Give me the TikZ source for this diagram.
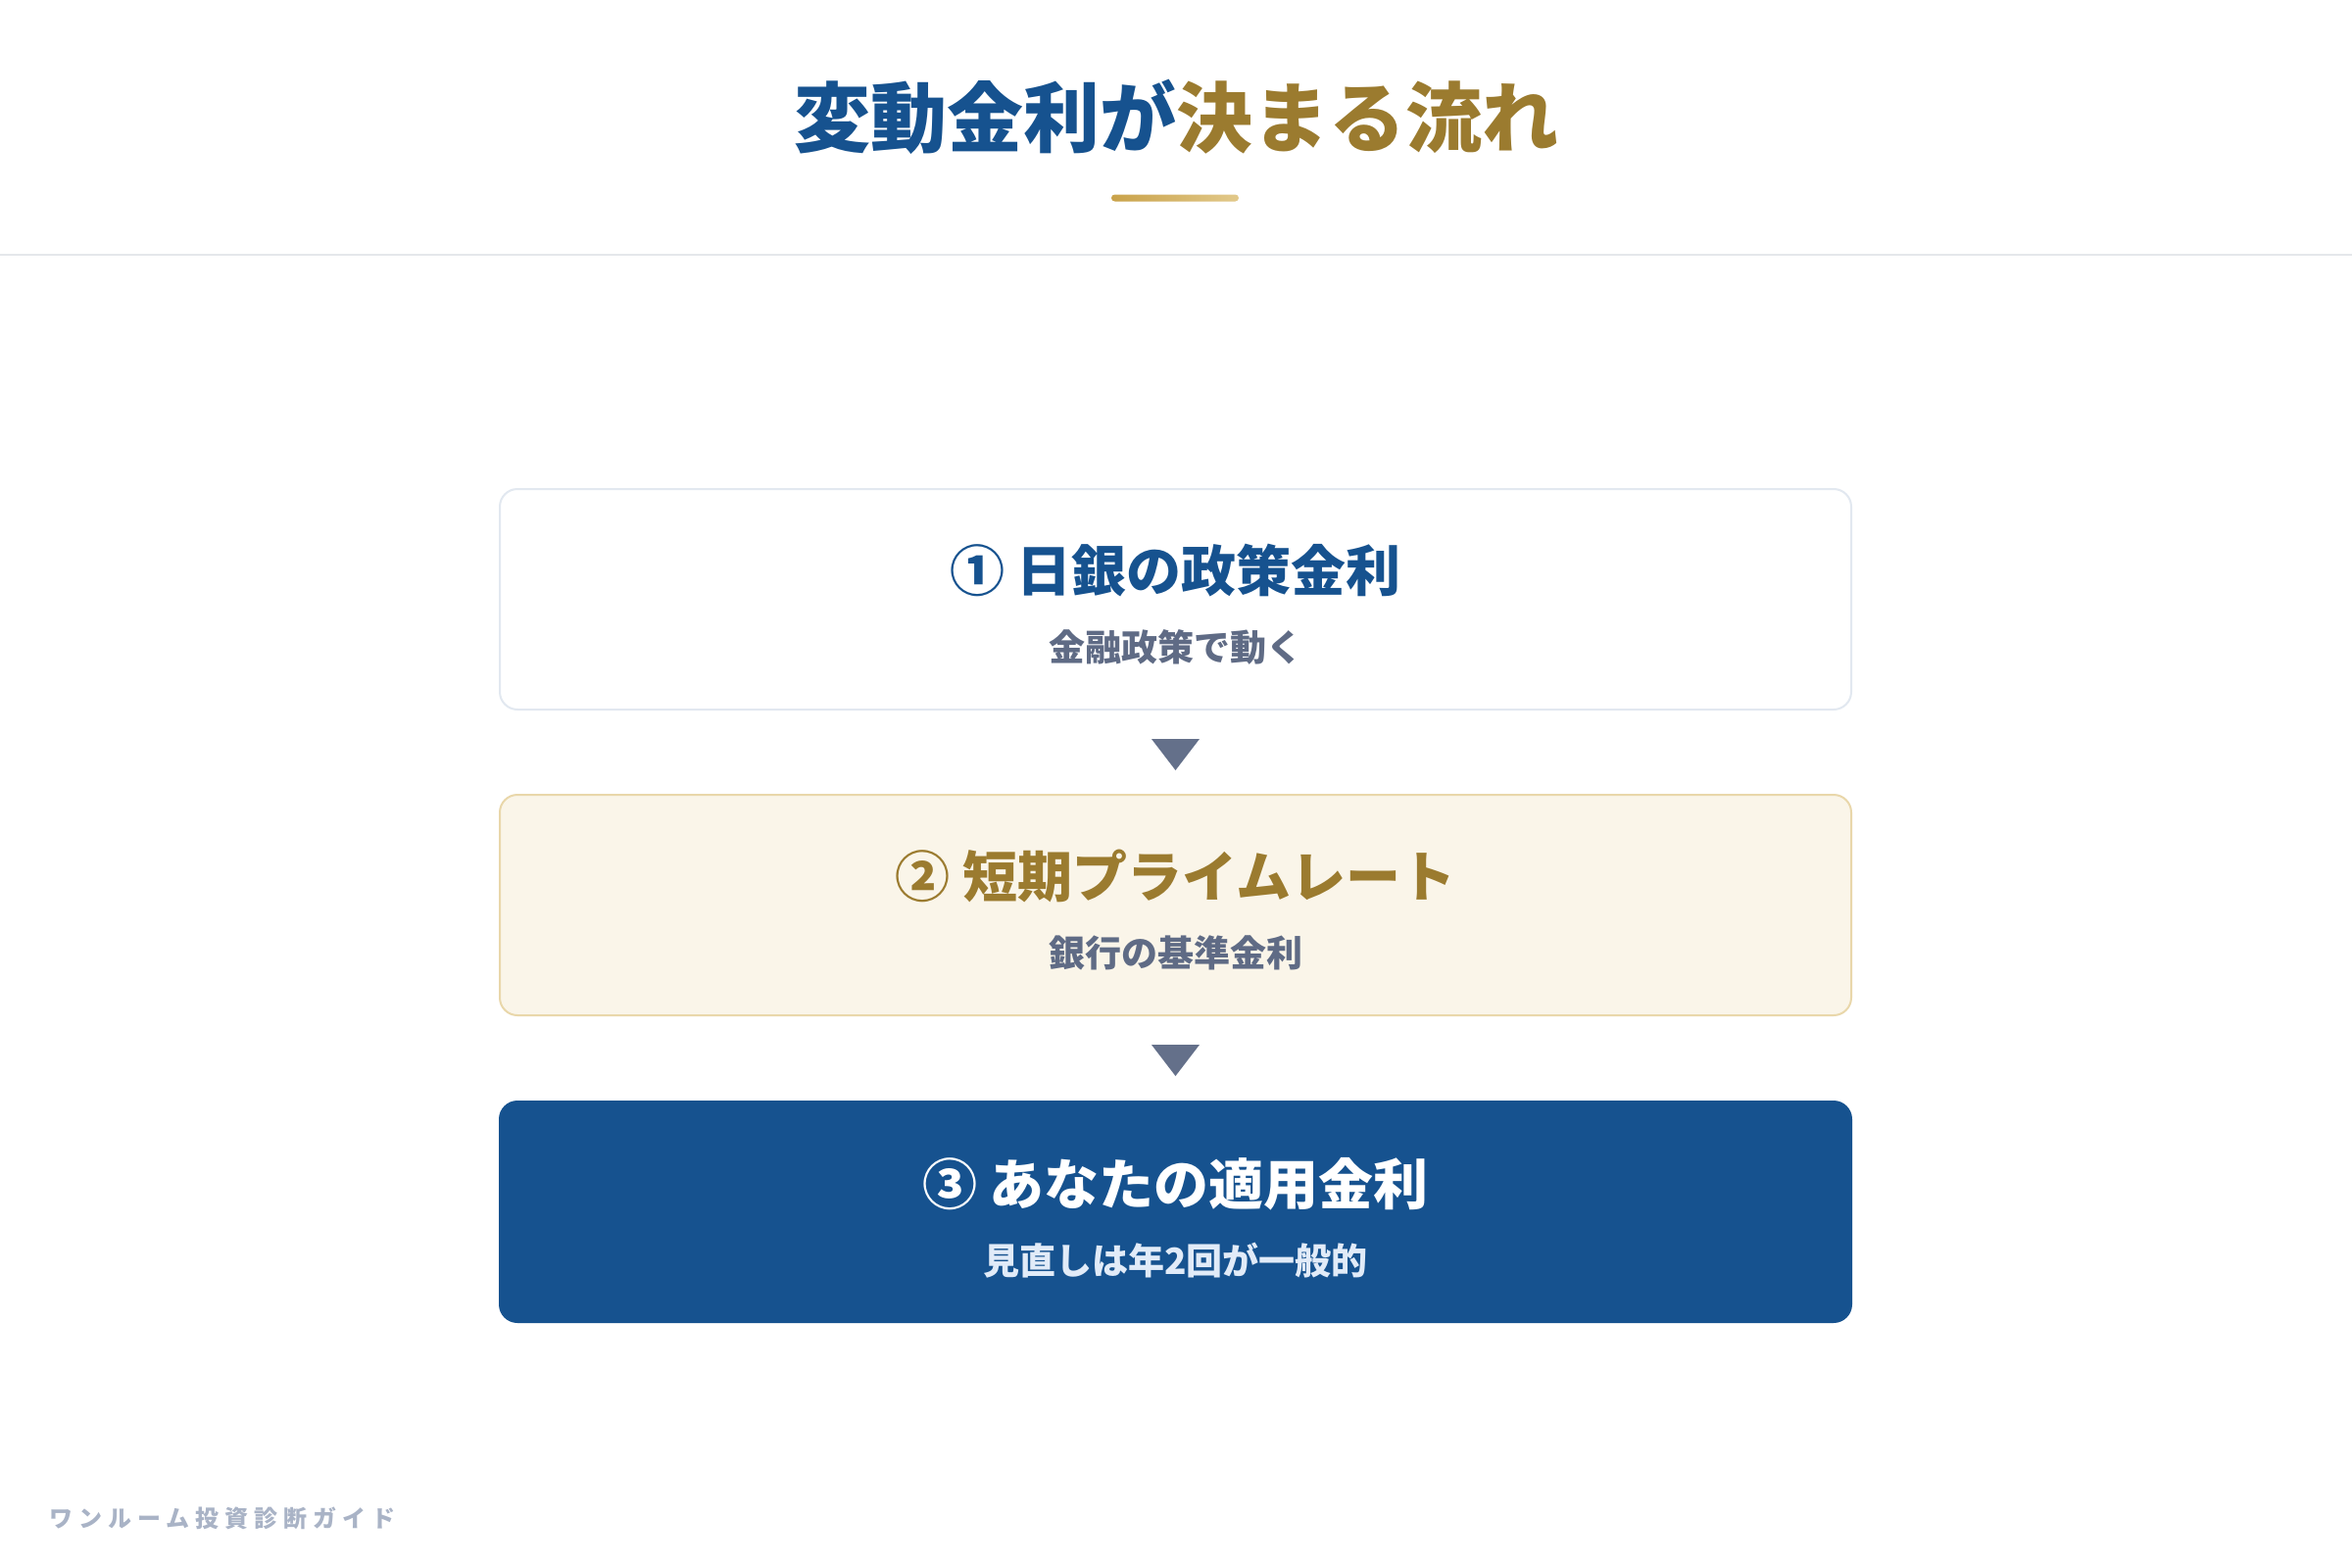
\documentclass[tikz,border=0pt]{standalone}
\usepackage{fontspec}
\setmainfont{Noto Sans CJK JP}
\usetikzlibrary{calc}
\definecolor{navy}{RGB}{22,82,143}
\definecolor{goldt}{RGB}{155,123,47}
\definecolor{slate}{RGB}{95,107,133}
\definecolor{arrowc}{RGB}{100,112,138}
\definecolor{creamfill}{RGB}{250,245,233}
\definecolor{creamline}{RGB}{233,215,170}
\definecolor{lightline}{RGB}{226,232,240}
\definecolor{rulegray}{RGB}{229,231,235}
\definecolor{paleblue}{RGB}{225,235,248}
\definecolor{footgray}{RGB}{169,179,198}
\definecolor{ulA}{RGB}{201,162,74}
\definecolor{ulB}{RGB}{226,201,138}
\tikzset{
  card/.style={rectangle, rounded corners=9pt, minimum width=689.5pt, minimum height=112.5pt, inner sep=0pt, line width=1pt},
  cardtitle/.style={inner sep=0pt, font=\fontsize{28pt}{28pt}\selectfont\bfseries},
  cardsub/.style={inner sep=0pt, font=\fontsize{18.5pt}{18.5pt}\selectfont\bfseries},
  tri/.style={fill=arrowc},
}
\begin{document}
\begin{tikzpicture}[x=0.5pt,y=-0.5pt]
\useasboundingbox (0,0) rectangle (2400,1600);
\fill[white] (0,0) rectangle (2400,1600);
% title
\node[inner sep=0pt, font=\fontsize{39pt}{39pt}\selectfont\bfseries] (title) at (1200,119)
  {\textcolor{navy}{変動金利が}\textcolor{goldt}{決まる流れ}};
\shade[left color=ulA, right color=ulB, rounded corners=1.75pt] (1134,198.5) rectangle (1264,205.5);
\draw[rulegray, line width=1pt] (0,260) -- (2400,260);
% cards
\node[card, draw=lightline, fill=white] (b1) at (1199.5,611.5) {};
\node[cardtitle, text=navy] (b1t) at ($(b1.center)+(0,-29.5)$) {① 日銀の政策金利};
\node[cardsub, text=slate] (b1s) at ($(b1.center)+(0,48.5)$) {金融政策で動く};
\node[card, draw=creamline, fill=creamfill] (b2) at (1199.5,923.5) {};
\node[cardtitle, text=goldt] (b2t) at ($(b2.center)+(0,-29.5)$) {② 短期プライムレート};
\node[cardsub, text=slate] (b2s) at ($(b2.center)+(0,48.5)$) {銀行の基準金利};
\node[card, draw=navy, fill=navy] (b3) at (1199.5,1236.5) {};
\node[cardtitle, text=white] (b3t) at ($(b3.center)+(0,-28)$) {③ あなたの適用金利};
\node[cardsub, text=paleblue] (b3s) at ($(b3.center)+(0,49.5)$) {見直しは年2回が一般的};
% arrows
\fill[tri] ($(b1.south)+(-24.5,29)$) -- ($(b1.south)+(24.5,29)$) -- ($(b1.south)+(0,61)$) -- cycle;
\fill[tri] ($(b2.south)+(-24.5,29)$) -- ($(b2.south)+(24.5,29)$) -- ($(b2.south)+(0,61)$) -- cycle;
% footer
\node[anchor=west, inner sep=0pt, text=footgray, font=\fontsize{12pt}{12pt}\selectfont\bfseries\addfontfeatures{LetterSpace=25}] (foot) at (50,1549) {ワンルーム投資診断ガイド};
\end{tikzpicture}
\end{document}
